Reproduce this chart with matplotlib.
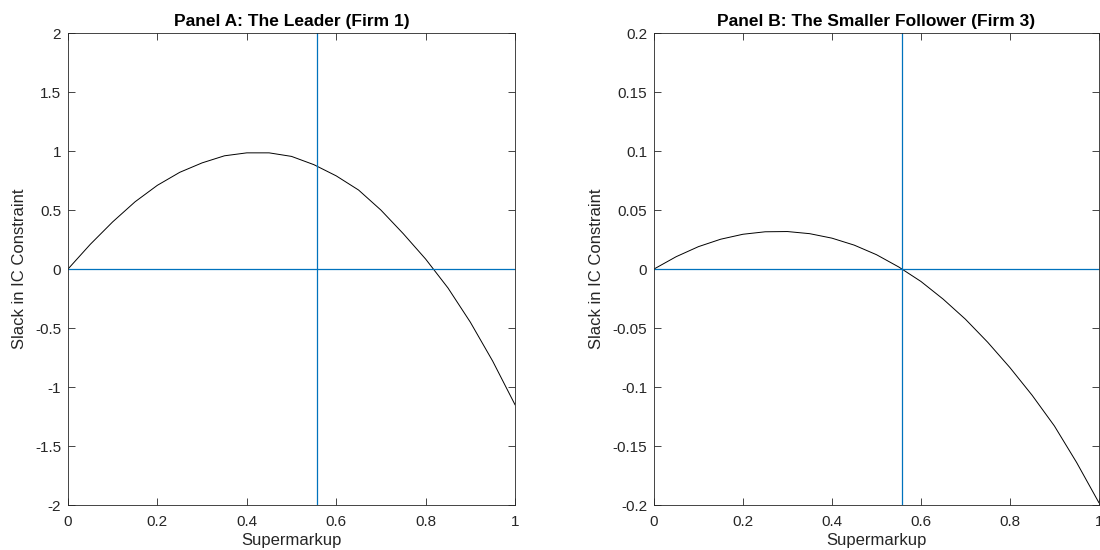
import numpy as np
import matplotlib
matplotlib.use('Agg')
import matplotlib.pyplot as plt
from matplotlib.ticker import FuncFormatter

#************ data **************************************
markup = [0.0, 0.05, 0.10, 0.15, 0.20, 0.25, 0.30, 0.35, 0.40, 0.45, 0.50,
          0.55, 0.60, 0.65, 0.70, 0.75, 0.80, 0.85, 0.90, 0.95, 1.0]

slack_leader = [0.0, 0.21, 0.40, 0.57, 0.71, 0.82, 0.90, 0.96, 0.985, 0.985, 0.955,
                0.885, 0.79, 0.67, 0.50, 0.30, 0.085, -0.16, -0.45, -0.78, -1.15]

slack_follower = [0.0, 0.0105, 0.0190, 0.0253, 0.0295, 0.0316, 0.0318, 0.0300, 0.0262,
                  0.0203, 0.0122, 0.0018, -0.0105, -0.0255, -0.0425, -0.0620, -0.0835,
                  -0.1070, -0.1330, -0.1640, -0.198]

markup_star = 0.558

titles = ['Panel A: The Leader (Firm 1)', 'Panel B: The Smaller Follower (Firm 3)']
ylims = [(-2, 2), (-0.2, 0.2)]
yticks = [np.arange(-2, 2.01, 0.5), np.arange(-0.2, 0.201, 0.05)]
#*******************************************************

plt.rcParams['font.family'] = ['Liberation Sans', 'DejaVu Sans']
plt.rcParams['axes.unicode_minus'] = False

matlab_blue = '#0072BD'
dark = '#262626'


def tick_fmt(v, pos):
    v = round(v, 4)
    if v == 0:
        return '0'
    return '%g' % v


fig = plt.figure(figsize=(11, 5.5), dpi=100)
ax1 = fig.add_axes([0.0618, 0.0818, 0.4064, 0.858])
ax2 = fig.add_axes([0.5945, 0.0818, 0.4045, 0.858])

for ax, y, title, yl, yt in zip([ax1, ax2], [slack_leader, slack_follower], titles, ylims, yticks):
    ax.plot(markup, y, color='black', lw=0.7)
    ax.axhline(0, color=matlab_blue, lw=0.9)
    ax.axvline(markup_star, color=matlab_blue, lw=0.9)
    ax.set_xlim(0, 1)
    ax.set_ylim(*yl)
    ax.set_xticks(np.arange(0, 1.01, 0.2))
    ax.set_yticks(yt)
    ax.xaxis.set_major_formatter(FuncFormatter(tick_fmt))
    ax.yaxis.set_major_formatter(FuncFormatter(tick_fmt))
    ax.tick_params(direction='in', top=True, right=True, length=5, width=0.6,
                   labelsize=11, colors=dark)
    ax.tick_params(axis='x', pad=7)
    ax.tick_params(axis='y', pad=5)
    for s in ax.spines.values():
        s.set_color(dark)
        s.set_linewidth(0.6)
    ax.set_title(title, fontsize=12.5, fontweight='bold', pad=5)
    ax.set_xlabel('Supermarkup', fontsize=12, color=dark, labelpad=3)
    ax.set_ylabel('Slack in IC Constraint', fontsize=12, color=dark, labelpad=6)

fig.savefig('out.png', dpi=100)
